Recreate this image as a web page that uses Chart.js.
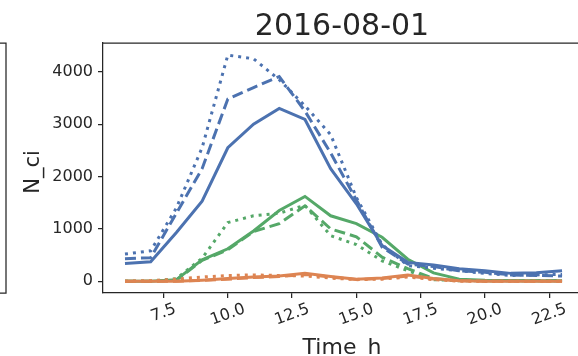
<!DOCTYPE html>
<html>
<head>
<meta charset="utf-8">
<script src="https://cdn.jsdelivr.net/npm/chart.js@4.4.0/dist/chart.umd.min.js"></script>
<style>
  html, body { margin: 0; padding: 0; background: #fff; }
  #wrap { width: 578px; height: 356px; }
</style>
</head>
<body>
<div id="wrap"><canvas id="chart"></canvas></div>
<script>
// hours of the day
var hours = [6, 7, 8, 9, 10, 11, 12, 13, 14, 15, 16, 17, 18, 19, 20, 21, 22, 23];

// blue series
var blueSolid  = [340, 370, 930, 1530, 2550, 3000, 3300, 3090, 2150, 1480, 680, 360, 310, 240, 200, 150, 160, 200];
var blueDashed = [430, 450, 1300, 2150, 3480, 3700, 3910, 3250, 2450, 1550, 650, 330, 280, 200, 170, 120, 110, 100];
var blueDotted = [520, 580, 1400, 2550, 4320, 4250, 3850, 3350, 2800, 1600, 700, 300, 250, 200, 150, 110, 120, 130];

// green series
var greenSolid  = [0, 0, 30, 410, 620, 960, 1350, 1620, 1250, 1100, 840, 420, 160, 40, 20, 15, 10, 10];
var greenDashed = [0, 0, 20, 400, 600, 950, 1100, 1440, 1000, 850, 460, 240, 50, 15, 10, 10, 10, 10];
var greenDotted = [0, 0, 50, 440, 1120, 1250, 1300, 1450, 870, 700, 390, 200, 30, 10, 10, 10, 10, 10];

// orange series
var orangeSolid  = [0, 0, 0, 20, 50, 80, 100, 150, 90, 40, 60, 120, 50, 10, 0, 0, 0, 0];
var orangeDashed = [0, 0, 0, 15, 40, 70, 90, 130, 80, 35, 50, 100, 40, 10, 0, 0, 0, 0];
var orangeDotted = [0, 10, 40, 80, 110, 120, 110, 100, 60, 30, 40, 80, 30, 0, 0, 0, 0, 0];

var xTicks = [7.5, 10, 12.5, 15, 17.5, 20, 22.5];
var yTicks = [0, 1000, 2000, 3000, 4000];

var titleText = '2016-08-01';
var xTitle = 'Time_h';
var yTitle = 'N_ci';

var BLUE = '#4c72b0', ORANGE = '#dd8452', GREEN = '#55a868';
var INK = '#262626';
var FONT = '"DejaVu Sans", sans-serif';

function pts(vals) {
  return vals.map(function (v, i) { return { x: hours[i], y: v }; });
}
function ds(vals, color, dash) {
  return {
    data: pts(vals),
    borderColor: color,
    borderWidth: 3,
    borderDash: dash,
    borderCapStyle: 'butt',
    pointRadius: 0,
    tension: 0,
    fill: false
  };
}
var SOLID = [], DASH = [11, 5], DOT = [3, 5];

var decor = {
  id: 'decor',
  afterDraw: function (chart) {
    var c = chart.ctx, a = chart.chartArea;
    c.save();
    c.strokeStyle = INK;
    c.lineWidth = 1.25;
    // top spine
    c.beginPath();
    c.moveTo(a.left, a.top);
    c.lineTo(chart.width, a.top);
    c.stroke();
    // edge of the neighbouring panel
    c.beginPath();
    c.moveTo(0, a.top);
    c.lineTo(6, a.top);
    c.lineTo(6, a.bottom);
    c.lineTo(0, a.bottom);
    c.stroke();

    c.fillStyle = INK;
    // x tick labels, rotated and centred on the tick
    var xs = chart.scales.x;
    c.font = '16px ' + FONT;
    var ang = 20 * Math.PI / 180;
    xs.ticks.forEach(function (t) {
      var s = t.value.toFixed(1);
      var w = c.measureText(s).width;
      var h = 12;
      var bh = w * Math.sin(ang) + h * Math.cos(ang);
      var px = xs.getPixelForValue(t.value);
      c.save();
      c.translate(px, a.bottom + 10 + bh / 2);
      c.rotate(-ang);
      c.textAlign = 'center';
      c.textBaseline = 'middle';
      c.fillText(s, 0, 0);
      c.restore();
    });

    // axis titles
    c.font = '22px ' + FONT;
    c.textAlign = 'center';
    c.textBaseline = 'alphabetic';
    c.fillText(xTitle, 342, 354);

    c.save();
    c.font = '21px ' + FONT;
    c.translate(39, 172);
    c.rotate(-Math.PI / 2);
    c.fillText(yTitle, 0, 0);
    c.restore();

    // title
    c.font = '30px ' + FONT;
    c.fillText(titleText, 342, 35);
    c.restore();
  }
};

new Chart(document.getElementById('chart'), {
  type: 'line',
  data: {
    datasets: [
      ds(blueSolid, BLUE, SOLID), ds(blueDashed, BLUE, DASH), ds(blueDotted, BLUE, DOT),
      ds(orangeSolid, ORANGE, SOLID), ds(orangeDashed, ORANGE, DASH), ds(orangeDotted, ORANGE, DOT),
      ds(greenSolid, GREEN, SOLID), ds(greenDashed, GREEN, DASH), ds(greenDotted, GREEN, DOT)
    ]
  },
  options: {
    responsive: true,
    maintainAspectRatio: false,
    animation: false,
    layout: { padding: { top: 43, left: 0, right: 0, bottom: 0 } },
    plugins: { legend: { display: false }, tooltip: { enabled: false }, title: { display: false } },
    scales: {
      x: {
        type: 'linear',
        min: 5.145,
        max: 23.62,
        afterBuildTicks: function (s) { s.ticks = xTicks.map(function (v) { return { value: v }; }); },
        afterFit: function (s) { s.height = 63; },
        ticks: { display: false },
        grid: { drawOnChartArea: false, drawTicks: true, tickLength: 5, color: INK, lineWidth: 1.25 },
        border: { display: true, color: INK, width: 1.25 }
      },
      y: {
        min: -225,
        max: 4551,
        afterBuildTicks: function (s) { s.ticks = yTicks.map(function (v) { return { value: v }; }); },
        afterFit: function (s) { s.width = 103; },
        ticks: {
          color: INK,
          padding: 5,
          font: { family: FONT, size: 16 },
          callback: function (v) { return String(v); }
        },
        grid: { drawOnChartArea: false, drawTicks: true, tickLength: 5, color: INK, lineWidth: 1.25 },
        border: { display: true, color: INK, width: 1.25 }
      }
    }
  },
  plugins: [decor]
});
</script>
</body>
</html>
